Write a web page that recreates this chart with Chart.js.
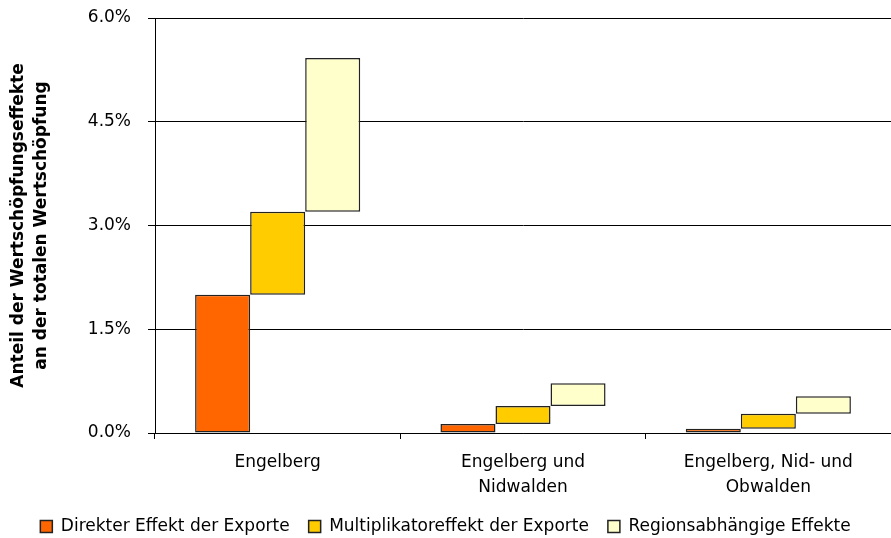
<!DOCTYPE html>
<html>
<head>
<meta charset="utf-8">
<script src="https://cdn.jsdelivr.net/npm/chart.js@4/dist/chart.umd.min.js"></script>
<style>
  body { margin: 0; background: #fff; }
</style>
</head>
<body>
<canvas id="myChart" width="891" height="538"></canvas>
<script>
const categories = ["Engelberg", ["Engelberg und", "Nidwalden"], ["Engelberg, Nid- und", "Obwalden"]];
const direkt = [2.0, 0.13, 0.06];
const multiplikator = [1.2, 0.26, 0.22];
const region = [2.22, 0.33, 0.25];
const yTicks = [0, 1.5, 3, 4.5, 6];

const colors = {
  orange: "#FF6600",
  yellow: "#FFCC00",
  light: "#FFFFCC",
};

// floating bars stacked one after the other
const lvl1 = direkt.map((v) => [0, v]);
const lvl2 = multiplikator.map((v, i) => [direkt[i], direkt[i] + v]);
const lvl3 = region.map((v, i) => [direkt[i] + multiplikator[i], direkt[i] + multiplikator[i] + v]);

const font = "'DejaVu Sans', Verdana, sans-serif";

const ctx = document.getElementById("myChart");
new Chart(ctx, {
  type: "bar",
  data: {
    labels: categories,
    datasets: [
      { label: "Direkter Effekt der Exporte", data: lvl1, backgroundColor: colors.orange },
      { label: "Multiplikatoreffekt der Exporte", data: lvl2, backgroundColor: colors.yellow },
      { label: "Regionsabhängige Effekte", data: lvl3, backgroundColor: colors.light },
    ].map((d) => ({ ...d, borderColor: "#222", borderWidth: 1.5, borderSkipped: false })),
  },
  options: {
    responsive: false,
    devicePixelRatio: 1,
    animation: false,
    categoryPercentage: 0.673,
    barPercentage: 1,
    layout: { padding: { top: 18, right: 0, bottom: -7, left: 0 } },
    plugins: {
      tooltip: { enabled: false },
      legend: {
        position: "bottom",
        labels: {
          color: "#000",
          font: { family: font, size: 17 },
          boxWidth: 12,
          boxHeight: 12,
          padding: 19,
          useBorderRadius: false,
        },
      },
    },
    scales: {
      x: {
        offset: true,
        grid: { display: true, drawOnChartArea: false, offset: true, tickLength: 6, color: "#000" },
        border: { color: "#000", width: 1 },
        ticks: { color: "#000", padding: 11, font: { family: font, size: 17, lineHeight: 1.47 } },
        afterFit: (scale) => { scale.height = 66; },
      },
      y: {
        min: 0,
        max: 6,
        afterBuildTicks: (scale) => { scale.ticks = yTicks.map((v) => ({ value: v })); },
        grid: { color: "#000", lineWidth: 1, tickLength: 7 },
        border: { color: "#000", width: 1 },
        ticks: {
          color: "#000",
          padding: 17,
          font: { family: font, size: 17 },
          callback: (v) => v.toFixed(1) + "%",
        },
        title: {
          display: true,
          text: ["Anteil der Wertschöpfungseffekte", "an der totalen Wertschöpfung"],
          color: "#000",
          font: { family: font, size: 17, weight: "bold", lineHeight: 1.3 },
          padding: { top: 8, bottom: 4 },
        },
        afterFit: (scale) => {
          scale.width = 155;
          scale.paddingTop = 0;
          scale.paddingBottom = 0;
        },
      },
    },
  },
});
</script>
</body>
</html>
